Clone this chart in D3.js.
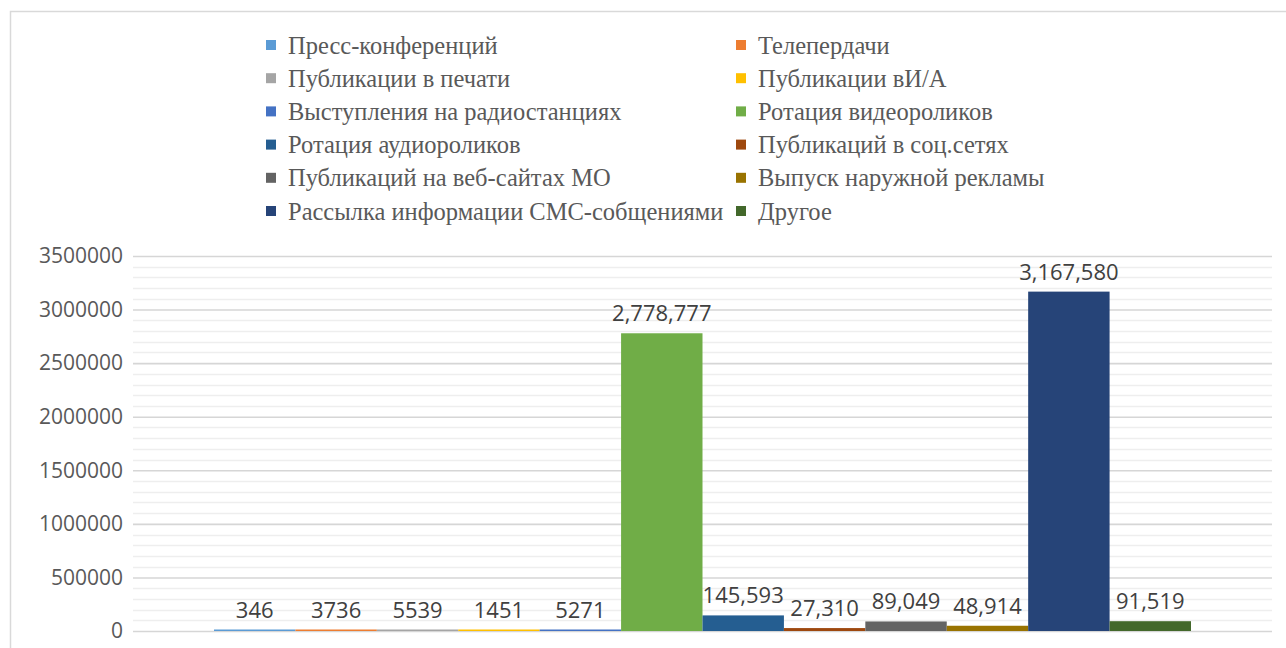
<!DOCTYPE html>
<html><head><meta charset="utf-8">
<script src="https://cdn.jsdelivr.net/npm/d3@7"></script>
<style>body{margin:0;background:#fff;}svg{display:block;}</style>
</head><body>
<script>
const categories = ["Пресс-конференций","Телепердачи","Публикации в печати","Публикации вИ/А","Выступления на радиостанциях","Ротация видеороликов","Ротация аудиороликов","Публикаций в соц.сетях","Публикаций на веб-сайтах МО","Выпуск наружной рекламы","Рассылка информации СМС-собщениями","Другое"];
const values = [346,3736,5539,1451,5271,2778777,145593,27310,89049,48914,3167580,91519];
const valueLabels = ["346","3736","5539","1451","5271","2,778,777","145,593","27,310","89,049","48,914","3,167,580","91,519"];
const colors = ["#5B9BD5","#ED7D31","#A5A5A5","#FFC000","#4472C4","#70AD47","#255E91","#9E480E","#636363","#997300","#264478","#43682B"];
const yTicks = [0,500000,1000000,1500000,2000000,2500000,3000000,3500000];

(function(){
const W=1286,H=648;
const svg=d3.select("body").append("svg").attr("width",W).attr("height",H);
svg.append("rect").attr("x",10.5).attr("y",11.5).attr("width",W).attr("height",H).attr("fill","none").attr("stroke","#d9d9d9").attr("stroke-width",1.5);

const pl=133,pr=1272,pt=256,pb=631;
const y=d3.scaleLinear().domain([0,3500000]).range([pb,pt]);
const x=d3.scaleBand().domain(d3.range(values.length)).range([214,1191]).padding(0);

const minor=d3.range(0,3500001,100000).filter(v=>v%500000!==0);
svg.append("g").selectAll("line").data(minor).join("line")
 .attr("x1",pl).attr("x2",pr).attr("y1",d=>Math.round(y(d))+0.5).attr("y2",d=>Math.round(y(d))+0.5)
 .attr("stroke","#eeeeee").attr("stroke-width",1.3);
const yAxis=d3.axisLeft(y).tickValues(yTicks).tickSize(-(pr-pl)).tickPadding(10).tickFormat(d3.format("d"));
const ga=svg.append("g").attr("transform",`translate(${pl},0)`).call(yAxis);
ga.select(".domain").remove();
ga.selectAll(".tick line").attr("stroke","#d6d6d6").attr("stroke-width",1.6);
ga.selectAll(".tick text").attr("fill","#595959").style("font-family","'Open Sans', sans-serif").style("font-size","21px").attr("x",-10);

svg.append("g").selectAll("rect").data(values).join("rect")
 .attr("x",(d,i)=>x(i)).attr("width",x.bandwidth())
 .attr("y",d=>Math.min(y(d),pb-1.5)).attr("height",d=>Math.max(pb-y(d),1.5))
 .attr("fill",(d,i)=>colors[i]);

svg.append("g").selectAll("text").data(values).join("text")
 .attr("x",(d,i)=>x(i)+x.bandwidth()/2).attr("y",d=>Math.min(y(d),pb-1.5)-12)
 .attr("text-anchor","middle").attr("fill","#404040")
 .style("font-family","'Open Sans', sans-serif").style("font-size","22px")
 .text((d,i)=>valueLabels[i]);

const lg=svg.append("g");
categories.forEach((c,i)=>{
  const col=i%2,row=Math.floor(i/2);
  const lx=col===0?266:736, ly=45+row*33.2;
  lg.append("rect").attr("x",lx).attr("y",ly-5).attr("width",10).attr("height",10).attr("fill",colors[i]);
  lg.append("text").attr("x",lx+22).attr("y",ly).attr("dy","0.35em").attr("fill","#595959")
   .style("font-family","'Liberation Serif', 'Times New Roman', serif").style("font-size","24.5px").text(c);
});
})();
</script>
</body></html>
